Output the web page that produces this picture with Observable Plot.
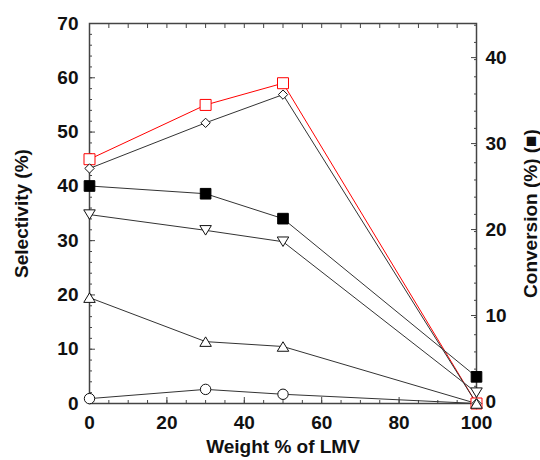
<!DOCTYPE html>
<html><head><meta charset="utf-8">
<script src="https://cdn.jsdelivr.net/npm/d3@7"></script>
<script src="https://cdn.jsdelivr.net/npm/@observablehq/plot@0.6"></script>
<style>body{margin:0;background:#fff}</style>
</head><body><div id="chart"></div>
<script>
// Data
const weight = [0, 30, 50, 100];
const selRedSquare = [45, 55, 59, 0];
const selDiamond = [43.3, 51.7, 56.9, 0];
const selDownTri = [34.8, 31.9, 29.8, 2];
const selUpTri = [19.5, 11.4, 10.5, 0];
const selCircle = [0.9, 2.6, 1.7, 0];
const conversion = [25.3, 24.4, 21.5, 3.1];

const xTicks = [0, 20, 40, 60, 80, 100];
const xMinorTicks = d3.range(0, 101, 5);
const selTicks = [0, 10, 20, 30, 40, 50, 60, 70];
const selMinorTicks = d3.range(0, 71, 2);
const convTicks = [0, 10, 20, 30, 40];
const convMinorTicks = d3.range(0, 45, 2);
const selMax = 70, convMax = 44.2;
const k = selMax / convMax;

const font = "'Liberation Sans', Arial, Helvetica, sans-serif";

const triUp = {draw(ctx, size) {
  const r = Math.sqrt(size / Math.PI); const w = r * 1.15, h = r * 0.95;
  ctx.moveTo(0, -h); ctx.lineTo(w, h); ctx.lineTo(-w, h); ctx.closePath();
}};
const triDown = {draw(ctx, size) {
  const r = Math.sqrt(size / Math.PI); const w = r * 1.15, h = r * 0.95;
  ctx.moveTo(0, h); ctx.lineTo(w, -h); ctx.lineTo(-w, -h); ctx.closePath();
}};

const circleS = {values: selCircle, symbol: "circle", r: 5.2, stroke: "#111", fill: "white", line: "#333"};
const redS = {values: selRedSquare, symbol: "square", r: 6.2, stroke: "#ff0000", fill: "white", line: "#ff0000"};
const diamondS = {values: selDiamond, symbol: "diamond2", r: 4.2, stroke: "#111", fill: "white", line: "#333"};
const upS = {values: selUpTri, symbol: triUp, r: 5, stroke: "#111", fill: "white", line: "#333"};
const downS = {values: selDownTri, symbol: triDown, r: 5, stroke: "#111", fill: "white", line: "#333"};
const convS = {values: conversion.map(v => v * k), symbol: "square", r: 6, stroke: "#000", fill: "#000", line: "#333"};
const series = [circleS, redS, diamondS, upS, downS, convS];

const lines = series.map(s => Plot.line(weight, {x: d => d, y: (d, i) => s.values[i], stroke: s.line, strokeWidth: 1}));
const dots = series.map(s => Plot.dot(weight, {x: d => d, y: (d, i) => s.values[i], symbol: s.symbol, r: s.r, fill: s.fill, stroke: s.stroke, strokeWidth: 1}));

const axisStroke = "#444";
const chart = Plot.plot({
  width: 540, height: 460,
  marginLeft: 89, marginRight: 64, marginTop: 23, marginBottom: 57,
  style: {fontFamily: font, fontSize: "19px", fontWeight: "bold", color: "#111", background: "white"},
  x: {domain: [0, 100], axis: null},
  y: {domain: [0, selMax], axis: null},
  marks: [
    Plot.axisX(xMinorTicks, {anchor: "bottom", tickSize: -3, tickFormat: () => "", label: null, stroke: axisStroke}),
    Plot.axisX(xTicks, {anchor: "bottom", tickSize: -6, tickPadding: 18, label: null, stroke: axisStroke, fontSize: 19}),
    Plot.axisX(xMinorTicks, {anchor: "top", tickSize: -4, tickFormat: () => "", label: null, stroke: axisStroke}),
    Plot.axisY(selMinorTicks, {anchor: "left", tickSize: -3, tickFormat: () => "", label: null, stroke: axisStroke}),
    Plot.axisY(selTicks, {anchor: "left", tickSize: -6, tickPadding: 17, label: null, stroke: axisStroke, fontSize: 19}),
    Plot.axisY(convMinorTicks.map(v => v * k), {anchor: "right", tickSize: -3, tickFormat: () => "", label: null, stroke: axisStroke}),
    Plot.axisY(convTicks.map(v => v * k), {anchor: "right", tickSize: -6, tickPadding: 15, label: null, stroke: axisStroke, fontSize: 19, dy: -2, tickFormat: d => String(Math.round(d / k))}),
    Plot.frame({stroke: axisStroke, strokeWidth: 1.5}),
    ...lines,
    ...dots,
    Plot.text(["Selectivity (%)"], {frameAnchor: "left", dx: -68, rotate: -90, textAnchor: "middle", text: d => d, fontSize: 19, fontWeight: "bold"}),
    Plot.text(["Conversion (%) (■)"], {frameAnchor: "right", dx: 54, rotate: -90, textAnchor: "middle", text: d => d, fontSize: 19, fontWeight: "bold"}),
    Plot.text(["Weight % of LMV"], {frameAnchor: "bottom", dy: 49, textAnchor: "middle", text: d => d, fontSize: 19, fontWeight: "bold"})
  ]
});
document.getElementById("chart").append(chart);
</script>
</body></html>
